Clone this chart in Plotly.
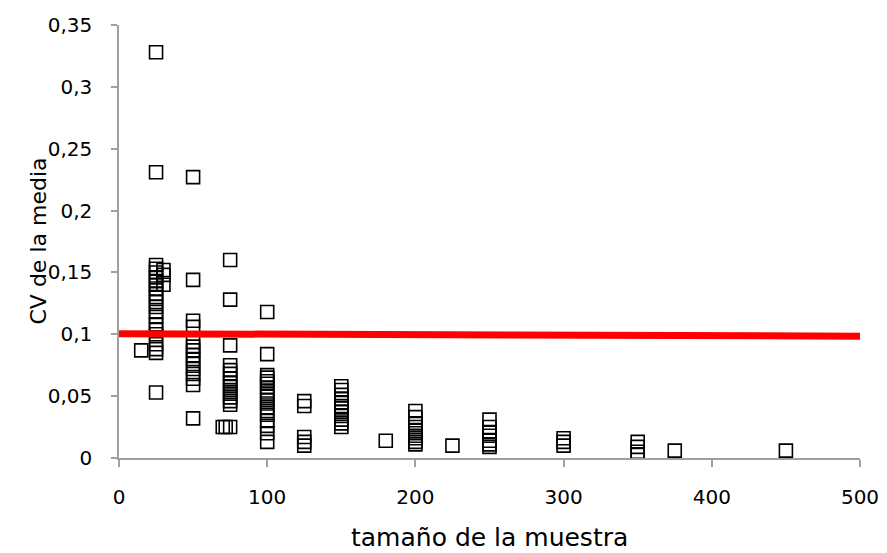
import plotly.graph_objects as go

# sample size groups and CV values
x_15 = [15]
y_15 = [0.087]
x_25 = [25] * 22
y_25 = [0.328, 0.231, 0.156, 0.153, 0.150, 0.146, 0.143, 0.140, 0.137, 0.133, 0.130,
        0.126, 0.122, 0.118, 0.114, 0.108, 0.104, 0.100, 0.092, 0.088, 0.085, 0.053]
x_30 = [30] * 3
y_30 = [0.152, 0.148, 0.140]
x_50 = [50] * 15
y_50 = [0.227, 0.144, 0.111, 0.106, 0.094, 0.090, 0.087, 0.083, 0.080, 0.076,
        0.072, 0.068, 0.064, 0.059, 0.032]
x_70 = [70, 72]
y_70 = [0.025, 0.025]
x_75 = [75] * 15
y_75 = [0.160, 0.128, 0.091, 0.075, 0.071, 0.068, 0.064, 0.061, 0.058, 0.055,
        0.052, 0.049, 0.046, 0.043, 0.025]
x_100 = [100] * 18
y_100 = [0.118, 0.084, 0.067, 0.065, 0.062, 0.060, 0.057, 0.053, 0.050, 0.047,
         0.044, 0.041, 0.038, 0.035, 0.030, 0.026, 0.020, 0.013]
x_125 = [125] * 5
y_125 = [0.046, 0.042, 0.017, 0.013, 0.010]
x_150 = [150] * 12
y_150 = [0.058, 0.055, 0.051, 0.048, 0.045, 0.042, 0.040, 0.037, 0.034, 0.031,
         0.028, 0.025]
x_180 = [180]
y_180 = [0.014]
x_200 = [200] * 10
y_200 = [0.038, 0.033, 0.028, 0.025, 0.022, 0.020, 0.018, 0.016, 0.013, 0.011]
x_225 = [225]
y_225 = [0.010]
x_250 = [250] * 7
y_250 = [0.031, 0.025, 0.021, 0.018, 0.014, 0.011, 0.009]
x_300 = [300] * 3
y_300 = [0.016, 0.013, 0.010]
x_350 = [350] * 4
y_350 = [0.013, 0.009, 0.005, 0.003]
x_375 = [375]
y_375 = [0.006]
x_450 = [450]
y_450 = [0.006]

sample_size = (x_15 + x_25 + x_30 + x_50 + x_70 + x_75 + x_100 + x_125 + x_150 +
               x_180 + x_200 + x_225 + x_250 + x_300 + x_350 + x_375 + x_450)
cv_mean = (y_15 + y_25 + y_30 + y_50 + y_70 + y_75 + y_100 + y_125 + y_150 +
           y_180 + y_200 + y_225 + y_250 + y_300 + y_350 + y_375 + y_450)

trend_x = [0, 500]
trend_y = [0.1005, 0.0985]

x_ticks = [0, 100, 200, 300, 400, 500]
y_ticks = [0, 0.05, 0.1, 0.15, 0.2, 0.25, 0.3, 0.35]

FONT = "DejaVu Sans, sans-serif"

fig = go.Figure()
fig.add_trace(go.Scatter(
    x=sample_size, y=cv_mean, mode="markers",
    marker=dict(symbol="square-open", size=13, color="black", line=dict(width=1.6)),
    showlegend=False, hoverinfo="x+y"))
fig.add_trace(go.Scatter(
    x=trend_x, y=trend_y, mode="lines",
    line=dict(color="#ff0000", width=7),
    showlegend=False))

fig.update_layout(
    width=879, height=545,
    margin=dict(l=111, r=27, t=17, b=95, autoexpand=False),
    paper_bgcolor="white", plot_bgcolor="white",
    separators=", ",
    font=dict(family=FONT, size=20, color="#000000"),
    xaxis=dict(
        range=[0, 500], tickvals=x_ticks, showgrid=False, zeroline=False,
        showline=True, linecolor="#a0a0a0", linewidth=1.5, automargin=False,
        ticks="outside", ticklen=7, tickcolor="#a0a0a0", tickwidth=1.5,
        ticklabelstandoff=13,
    ),
    yaxis=dict(
        range=[0, 0.35], tickvals=y_ticks, showgrid=False, zeroline=False,
        showline=True, linecolor="#a0a0a0", linewidth=1.5, automargin=False,
        ticks="outside", ticklen=6, tickcolor="#a0a0a0", tickwidth=1.5,
        ticklabelstandoff=15,
    ),
    annotations=[
        dict(text="CV de la media", textangle=-90, showarrow=False,
             xref="paper", yref="paper", x=0, y=0.5, xanchor="center", yanchor="middle",
             xshift=-81, font=dict(size=22)),
        dict(text="tamaño de la muestra", showarrow=False,
             xref="paper", yref="paper", x=0.5, y=0, xanchor="center", yanchor="middle",
             yshift=-79, font=dict(size=25)),
    ],
)

fig.write_html("out.html")
